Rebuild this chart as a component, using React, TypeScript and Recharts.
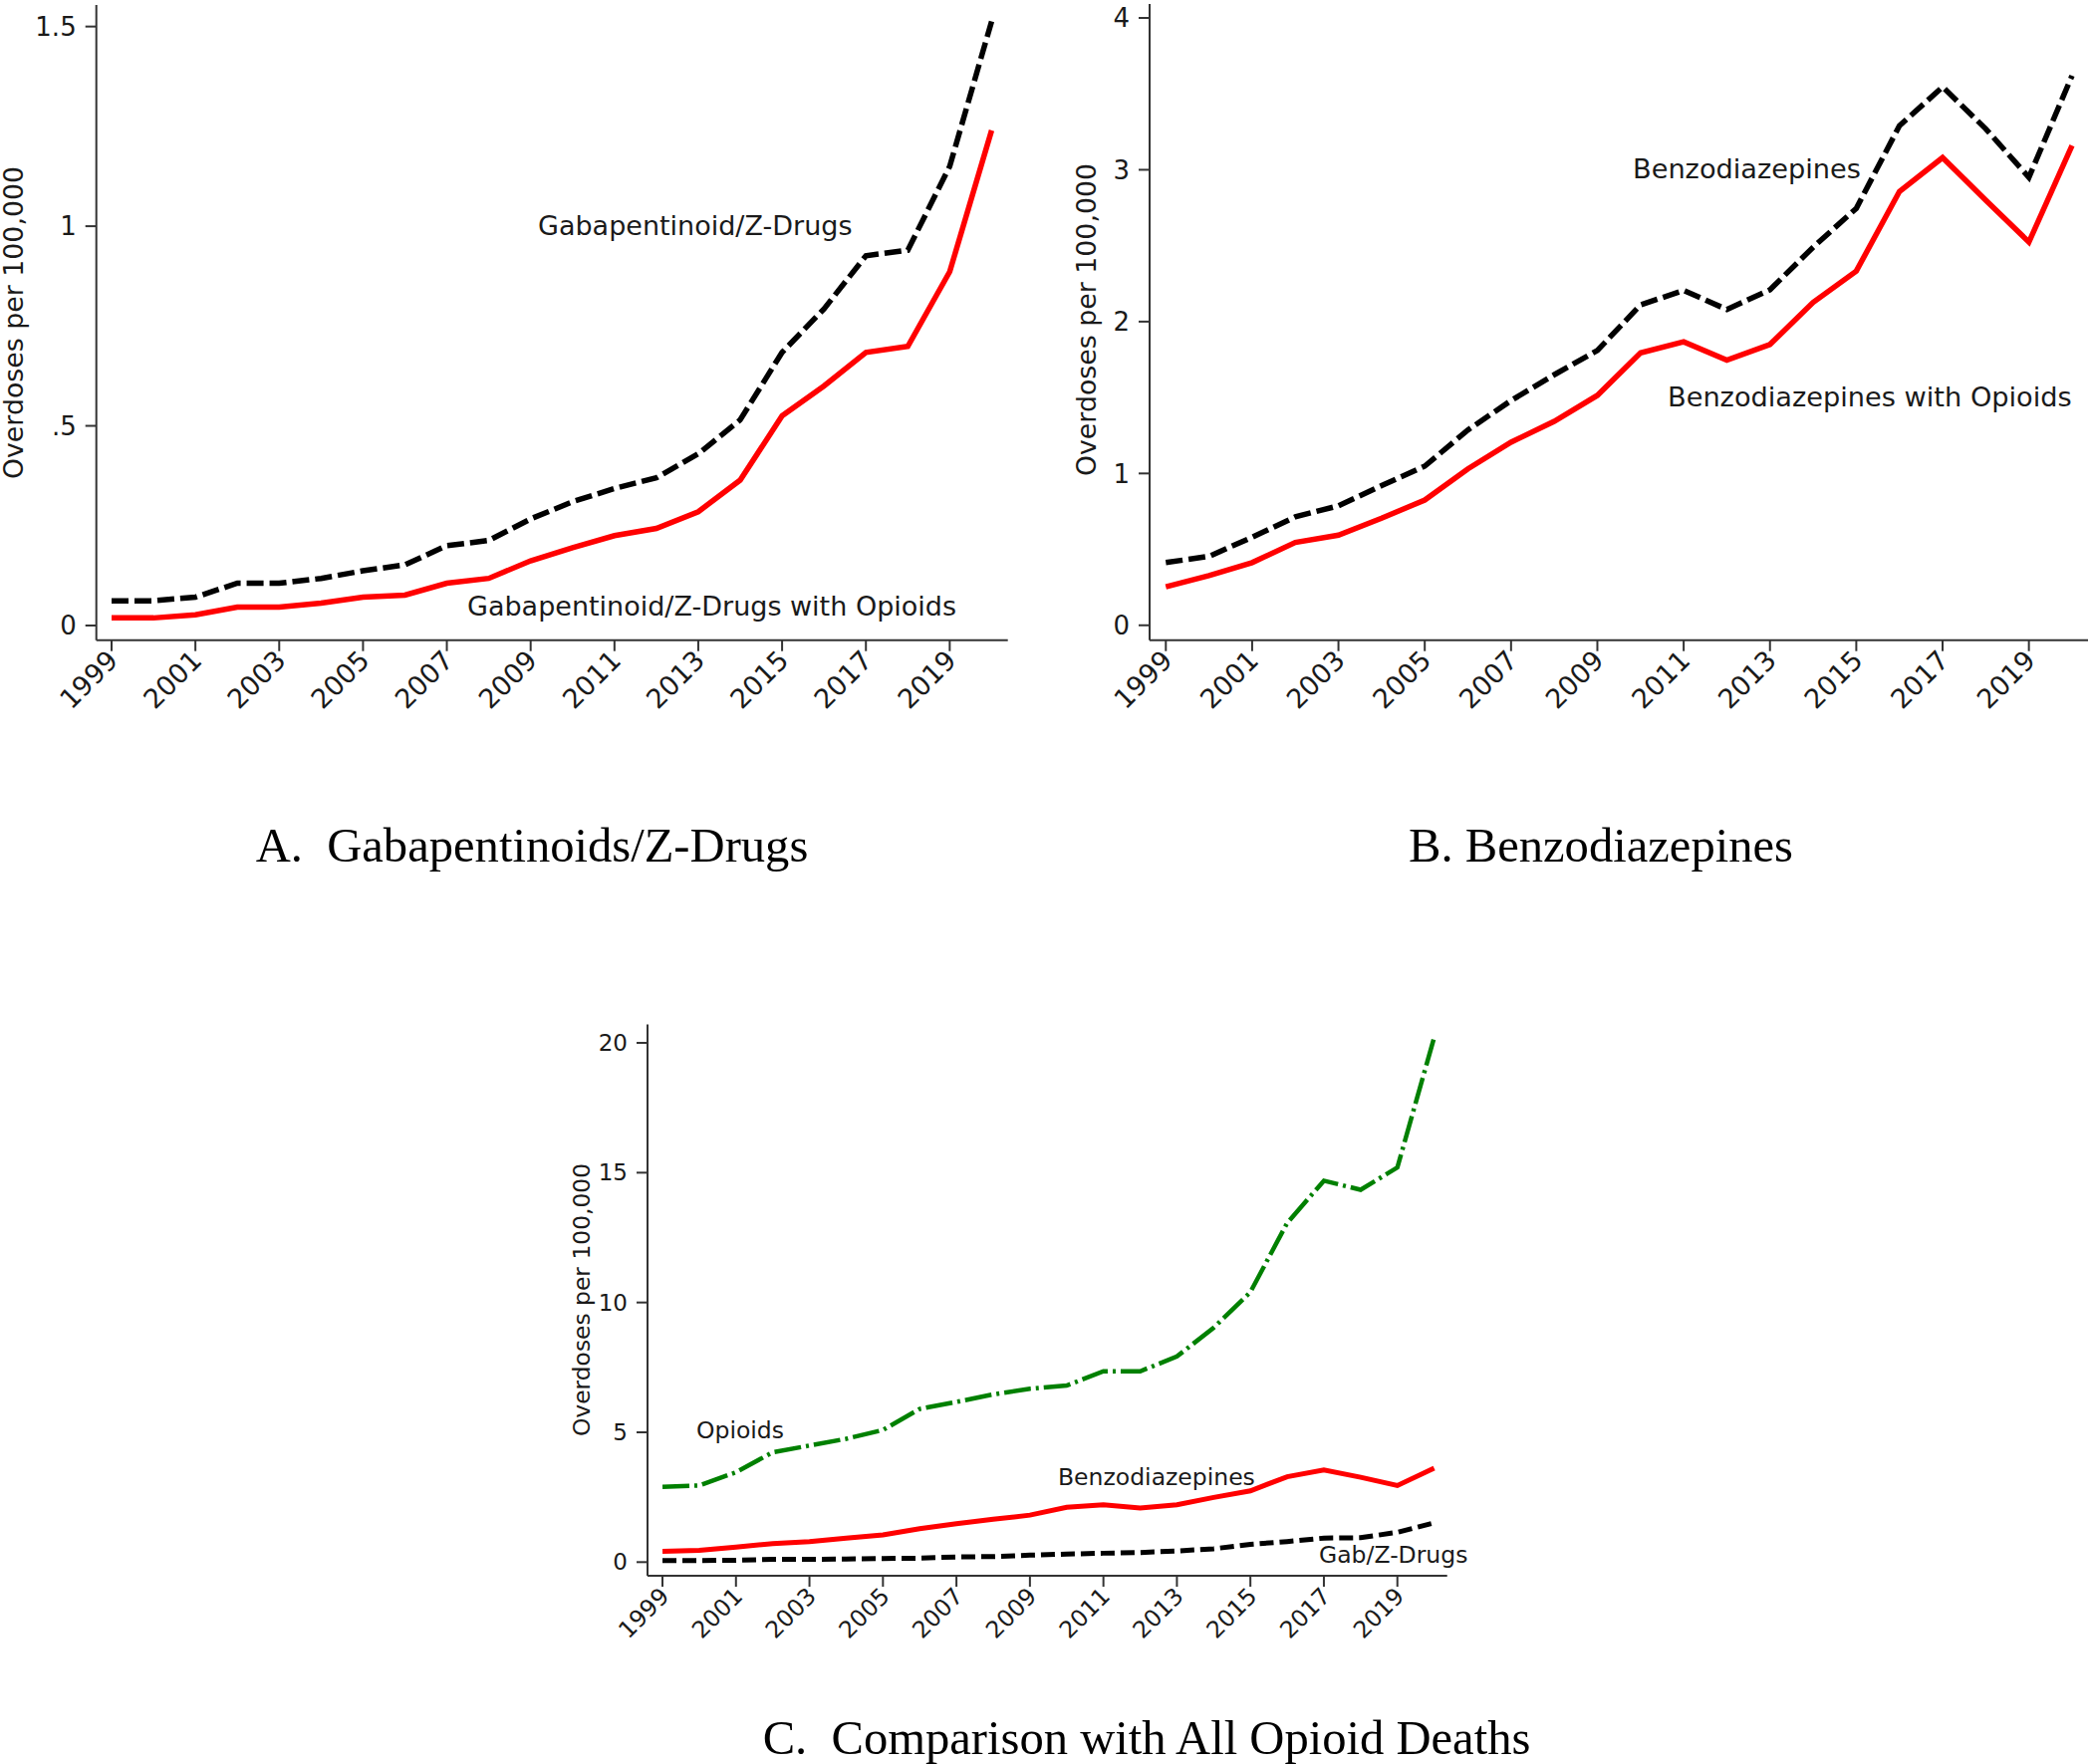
import React from 'react';
import { LineChart, Line, XAxis, YAxis } from 'recharts';

const years = [1999, 2000, 2001, 2002, 2003, 2004, 2005, 2006, 2007, 2008, 2009, 2010, 2011, 2012, 2013, 2014, 2015, 2016, 2017, 2018, 2019, 2020];
const yearTicks = [1999, 2001, 2003, 2005, 2007, 2009, 2011, 2013, 2015, 2017, 2019];

// overdoses per 100,000
const gabTotal = [0.062, 0.062, 0.071, 0.106, 0.106, 0.118, 0.137, 0.152, 0.2, 0.213, 0.267, 0.31, 0.343, 0.37, 0.43, 0.515, 0.684, 0.793, 0.926, 0.94, 1.15, 1.513];
const gabWithOpioids = [0.019, 0.019, 0.027, 0.046, 0.046, 0.056, 0.071, 0.076, 0.106, 0.118, 0.162, 0.195, 0.225, 0.243, 0.285, 0.364, 0.525, 0.6, 0.684, 0.699, 0.886, 1.24];
const benzoTotal = [0.413, 0.454, 0.58, 0.714, 0.787, 0.92, 1.048, 1.286, 1.48, 1.65, 1.81, 2.11, 2.206, 2.08, 2.21, 2.49, 2.746, 3.29, 3.546, 3.27, 2.95, 3.62];
const benzoWithOpioids = [0.254, 0.327, 0.413, 0.546, 0.594, 0.705, 0.825, 1.03, 1.206, 1.343, 1.514, 1.794, 1.867, 1.746, 1.85, 2.127, 2.333, 2.857, 3.08, 2.8, 2.524, 3.16];
const opioids = [2.9, 2.95, 3.46, 4.23, 4.49, 4.75, 5.09, 5.9, 6.17, 6.46, 6.68, 6.8, 7.35, 7.35, 7.92, 9.03, 10.4, 13.06, 14.69, 14.34, 15.2, 20.2];

const ticksA = [0, 0.5, 1, 1.5];
const labelsA = ['0', '.5', '1', '1.5'];
const ticksB = [0, 1, 2, 3, 4];
const ticksC = [0, 5, 10, 15, 20];

const rows = years.map((year, i) => ({
  year,
  gabTotal: gabTotal[i],
  gabWithOpioids: gabWithOpioids[i],
  benzoTotal: benzoTotal[i],
  benzoWithOpioids: benzoWithOpioids[i],
  opioids: opioids[i],
}));

const FONT = 'DejaVu Sans';
const AXIS = '#333';
const INK = '#1a1a1a';

const XTick = ({ x, y, payload, fs }: any) => (
  <g transform={`translate(${x + 8},${y + 11})`}>
    <text x={0} y={0} textAnchor="end" transform="rotate(-45)" fontSize={fs} fill={INK} fontFamily={FONT}>
      {payload.value}
    </text>
  </g>
);

function Panel({ left, top, width, height, margin, yWidth, xHeight, xDomain, yDomain, yTicks, yFmt, xfs, yfs, children }: any) {
  return (
    <div style={{ position: 'absolute', left, top, width, height }}>
      <LineChart width={width} height={height} data={rows} margin={margin}>
        <XAxis
          dataKey="year"
          type="number"
          domain={xDomain}
          ticks={yearTicks}
          interval={0}
          height={xHeight}
          tickSize={11}
          tickMargin={0}
          axisLine={{ stroke: AXIS, strokeWidth: 2 }}
          tickLine={{ stroke: AXIS, strokeWidth: 2 }}
          tick={<XTick fs={xfs} />}
        />
        <YAxis
          type="number"
          domain={yDomain}
          ticks={yTicks}
          interval={0}
          width={yWidth}
          tickSize={11}
          tickMargin={9}
          tickFormatter={yFmt}
          axisLine={{ stroke: AXIS, strokeWidth: 2 }}
          tickLine={{ stroke: AXIS, strokeWidth: 2 }}
          tick={{ fontSize: yfs, fill: INK, fontFamily: FONT }}
        />
        {children}
      </LineChart>
    </div>
  );
}

const Note = ({ left, top, size, children }: any) => (
  <div style={{ position: 'absolute', left, top, fontSize: size, lineHeight: 1, transform: 'translateY(-50%)', whiteSpace: 'nowrap', color: INK, fontFamily: FONT }}>
    {children}
  </div>
);

const YTitle = ({ cx, cy, size }: any) => (
  <div style={{ position: 'absolute', left: cx, top: cy, fontSize: size, lineHeight: 1, transform: 'translate(-50%, -50%) rotate(-90deg)', whiteSpace: 'nowrap', color: INK, fontFamily: FONT }}>
    Overdoses per 100,000
  </div>
);

const Caption = ({ cx, cy, children }: any) => (
  <div style={{ position: 'absolute', left: cx, top: cy, fontSize: 48.6, lineHeight: 1, transform: 'translate(-50%, -50%)', whiteSpace: 'pre', color: '#000', fontFamily: '"Liberation Serif", "Times New Roman", serif' }}>
    {children}
  </div>
);

export default function App() {
  return (
    <div style={{ position: 'absolute', left: 0, top: 0, width: 2100, height: 1771, background: '#fff', fontFamily: FONT }}>
      <Panel
        left={0} top={0} width={1040} height={760}
        margin={{ top: 5, right: 28.3, left: 0, bottom: 17.3 }}
        yWidth={96.7} xHeight={100}
        xDomain={[1998.636, 2020.387]} yDomain={[-0.0367, 1.554]}
        yTicks={ticksA} yFmt={(v: number) => labelsA[ticksA.indexOf(v)]} xfs={27} yfs={26}
      >
        <Line type="linear" dataKey="gabTotal" stroke="#000" strokeWidth={5.5} strokeDasharray="17 6" dot={false} isAnimationActive={false} />
        <Line type="linear" dataKey="gabWithOpioids" stroke="#ff0000" strokeWidth={5.5} dot={false} isAnimationActive={false} />
      </Panel>
      <YTitle cx={13.5} cy={324} size={26.8} />
      <Note left={540} top={226} size={27}>Gabapentinoid/Z-Drugs</Note>
      <Note left={469} top={608} size={27}>Gabapentinoid/Z-Drugs with Opioids</Note>

      <Panel
        left={1060} top={0} width={1040} height={760}
        margin={{ top: 4, right: 4, left: 0, bottom: 17.3 }}
        yWidth={94} xHeight={100}
        xDomain={[1998.624, 2020.37]} yDomain={[-0.098, 4.092]}
        yTicks={ticksB} yFmt={(v: number) => String(v)} xfs={27} yfs={26}
      >
        <Line type="linear" dataKey="benzoTotal" stroke="#000" strokeWidth={5.5} strokeDasharray="17 6" dot={false} isAnimationActive={false} />
        <Line type="linear" dataKey="benzoWithOpioids" stroke="#ff0000" strokeWidth={5.5} dot={false} isAnimationActive={false} />
      </Panel>
      <YTitle cx={1091} cy={321} size={26.8} />
      <Note left={1639} top={170} size={27.2}>Benzodiazepines</Note>
      <Note left={1674} top={399} size={27.2}>Benzodiazepines with Opioids</Note>

      <Panel
        left={540} top={1000} width={940} height={700}
        margin={{ top: 28.5, right: 27.3, left: 0, bottom: 28 }}
        yWidth={110} xHeight={90}
        xDomain={[1998.593, 2020.355]} yDomain={[-0.525, 20.71]}
        yTicks={ticksC} yFmt={(v: number) => String(v)} xfs={23.5} yfs={23}
      >
        <Line type="linear" dataKey="opioids" stroke="#008000" strokeWidth={4.5} strokeDasharray="27 5 3 5" dot={false} isAnimationActive={false} />
        <Line type="linear" dataKey="benzoTotal" stroke="#ff0000" strokeWidth={5} dot={false} isAnimationActive={false} />
        <Line type="linear" dataKey="gabTotal" stroke="#000" strokeWidth={5} strokeDasharray="14 6" dot={false} isAnimationActive={false} />
      </Panel>
      <YTitle cx={585} cy={1305} size={23.4} />
      <Note left={699} top={1437} size={23.5}>Opioids</Note>
      <Note left={1062} top={1484} size={23.5}>Benzodiazepines</Note>
      <Note left={1324} top={1562} size={23.5}>Gab/Z-Drugs</Note>

      <Caption cx={534} cy={849}>{'A.  Gabapentinoids/Z-Drugs'}</Caption>
      <Caption cx={1607} cy={849}>{'B. Benzodiazepines'}</Caption>
      <Caption cx={1151} cy={1745}>{'C.  Comparison with All Opioid Deaths'}</Caption>
    </div>
  );
}
